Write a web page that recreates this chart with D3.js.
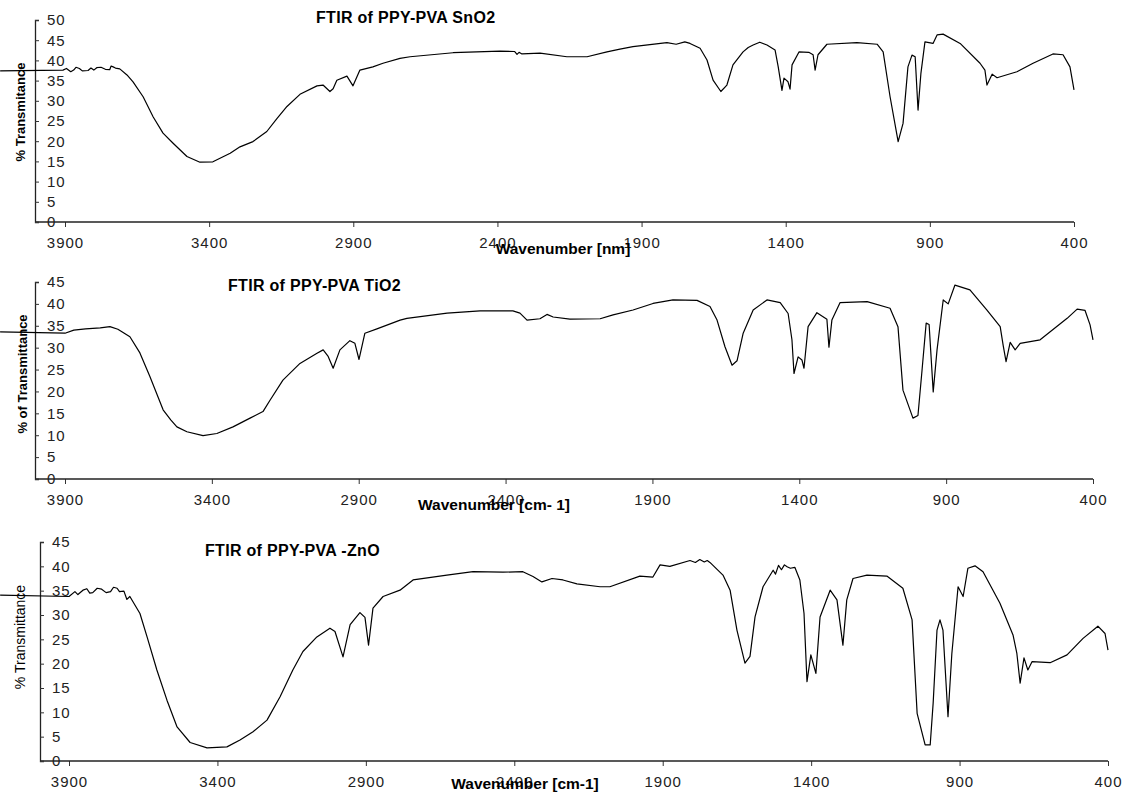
<!DOCTYPE html>
<html>
<head>
<meta charset="utf-8">
<script src="https://cdn.jsdelivr.net/npm/d3@7"></script>
<style>
  body { margin: 0; background: #fff; }
  svg { display: block; font-family: "Liberation Sans", Arial, sans-serif; }
</style>
</head>
<body>
<svg id="chart"></svg>
<script>
// wavenumber (cm-1) / % transmittance
const wnSnO2 = [4125, 3907, 3895, 3880, 3870, 3862, 3850, 3840, 3820, 3810, 3800, 3790, 3775, 3760, 3745, 3740, 3733, 3725, 3710, 3685, 3664, 3629, 3594, 3560, 3525, 3477, 3432, 3387, 3327, 3293, 3248, 3200, 3165, 3130, 3085, 3026, 3005, 2981, 2970, 2957, 2922, 2901, 2877, 2832, 2797, 2738, 2703, 2554, 2391, 2340, 2332, 2325, 2315, 2252, 2159, 2089, 2020, 1975, 1930, 1812, 1780, 1750, 1732, 1697, 1673, 1652, 1625, 1604, 1583, 1548, 1530, 1513, 1490, 1465, 1437, 1426, 1413, 1406, 1392, 1385, 1378, 1354, 1320, 1305, 1298, 1288, 1257, 1153, 1083, 1062, 1038, 1010, 993, 976, 962, 951, 941, 931, 917, 889, 875, 854, 795, 726, 709, 702, 684, 667, 598, 542, 473, 438, 414, 400];
const tSnO2 = [37.4, 37.6, 38.0, 37.2, 37.6, 38.3, 38.0, 37.4, 37.5, 38.1, 37.6, 38.2, 38.3, 37.8, 37.7, 38.6, 38.4, 38.1, 37.9, 36.4, 34.7, 31.0, 26.0, 22.0, 19.5, 16.2, 14.8, 14.9, 17.0, 18.6, 19.9, 22.4, 25.6, 28.6, 31.6, 33.7, 33.9, 32.3, 33.0, 35.1, 36.1, 33.7, 37.6, 38.4, 39.3, 40.5, 40.9, 41.9, 42.3, 42.2, 41.5, 42.0, 41.6, 41.8, 40.9, 40.9, 42.1, 42.8, 43.4, 44.4, 44.0, 44.6, 44.2, 43.0, 40.1, 35.1, 32.3, 33.9, 38.9, 42.1, 43.2, 43.8, 44.5, 43.8, 42.6, 38.4, 32.6, 35.6, 34.7, 32.9, 38.9, 42.1, 42.0, 41.4, 37.6, 41.4, 44.0, 44.4, 44.0, 42.1, 31.0, 19.9, 24.4, 38.4, 41.3, 40.9, 27.7, 36.8, 44.6, 44.2, 46.3, 46.5, 44.2, 39.3, 37.6, 33.9, 36.6, 35.7, 37.2, 39.3, 41.6, 41.4, 38.4, 32.7];

const wnTiO2 = [4121, 3900, 3870, 3830, 3780, 3747, 3720, 3679, 3645, 3611, 3566, 3540, 3519, 3485, 3430, 3383, 3328, 3270, 3226, 3202, 3158, 3100, 3042, 3021, 3004, 2987, 2964, 2930, 2913, 2899, 2879, 2838, 2759, 2736, 2599, 2487, 2375, 2351, 2327, 2283, 2259, 2238, 2181, 2078, 2034, 1966, 1898, 1830, 1748, 1704, 1680, 1653, 1629, 1612, 1591, 1557, 1510, 1465, 1438, 1425, 1418, 1404, 1391, 1384, 1370, 1340, 1306, 1299, 1289, 1261, 1169, 1091, 1064, 1047, 1013, 996, 982, 968, 958, 944, 931, 910, 893, 870, 819, 761, 716, 706, 696, 682, 665, 648, 580, 488, 454, 427, 410, 400];
const tTiO2 = [33.6, 33.3, 34.0, 34.3, 34.5, 34.8, 34.2, 32.5, 28.8, 23.4, 15.8, 13.5, 11.9, 10.8, 9.9, 10.4, 11.9, 13.9, 15.4, 18.0, 22.6, 26.4, 28.7, 29.5, 28.0, 25.3, 29.5, 31.6, 31.0, 27.3, 33.3, 34.3, 36.3, 36.7, 37.9, 38.4, 38.4, 37.9, 36.3, 36.6, 37.6, 37.0, 36.5, 36.6, 37.5, 38.6, 40.1, 40.9, 40.8, 39.4, 36.3, 30.2, 26.0, 27.0, 33.3, 38.6, 40.9, 40.3, 37.8, 31.8, 24.1, 27.9, 27.2, 25.3, 34.8, 38.0, 36.5, 30.1, 36.3, 40.3, 40.5, 39.0, 34.8, 20.3, 13.9, 14.5, 24.9, 35.6, 35.3, 19.9, 29.5, 40.9, 40.0, 44.3, 43.2, 38.6, 34.8, 30.6, 26.8, 31.2, 29.5, 31.0, 31.8, 36.7, 38.8, 38.5, 35.2, 31.8];

const wnZnO = [4132, 3900, 3880, 3870, 3853, 3840, 3830, 3820, 3805, 3790, 3775, 3760, 3750, 3738, 3730, 3715, 3705, 3695, 3661, 3637, 3604, 3570, 3536, 3492, 3435, 3368, 3324, 3280, 3233, 3189, 3146, 3112, 3065, 3021, 3004, 2977, 2953, 2920, 2903, 2891, 2876, 2842, 2785, 2741, 2627, 2539, 2438, 2371, 2337, 2307, 2273, 2236, 2189, 2111, 2078, 1977, 1933, 1909, 1876, 1808, 1790, 1775, 1760, 1750, 1741, 1697, 1673, 1650, 1623, 1606, 1589, 1562, 1528, 1520, 1510, 1500, 1490, 1481, 1470, 1455, 1438, 1424, 1414, 1401, 1384, 1370, 1336, 1313, 1293, 1280, 1259, 1212, 1145, 1091, 1060, 1043, 1016, 999, 989, 976, 966, 956, 939, 926, 905, 888, 872, 848, 821, 764, 720, 707, 696, 683, 670, 656, 595, 538, 484, 434, 410, 400];
const tZnO = [34.1, 33.8, 34.8, 34.2, 35.1, 35.4, 34.5, 34.6, 35.5, 35.3, 34.6, 34.8, 35.7, 35.5, 34.8, 34.9, 33.2, 33.8, 30.3, 25.5, 18.7, 12.5, 7.0, 3.8, 2.7, 2.9, 4.3, 6.0, 8.4, 13.2, 18.7, 22.5, 25.5, 27.3, 26.6, 21.4, 28.0, 30.5, 29.5, 23.8, 31.4, 33.8, 35.1, 37.2, 38.2, 38.9, 38.8, 38.9, 37.9, 36.8, 37.5, 37.2, 36.4, 35.8, 35.8, 38.0, 37.8, 40.3, 40.0, 41.2, 40.8, 41.4, 40.9, 41.2, 40.8, 38.2, 35.1, 26.9, 20.1, 21.5, 29.6, 35.8, 39.2, 38.4, 40.2, 39.3, 40.3, 39.9, 39.6, 39.8, 37.2, 30.3, 16.3, 21.8, 18.0, 29.6, 35.1, 33.1, 23.8, 33.1, 37.5, 38.2, 38.0, 35.5, 29.0, 9.8, 3.3, 3.3, 11.9, 26.9, 29.0, 26.9, 9.1, 22.1, 35.8, 33.8, 39.6, 40.1, 38.9, 32.4, 25.9, 22.1, 16.0, 21.2, 18.7, 20.4, 20.2, 21.8, 25.2, 27.7, 26.2, 22.8];

const xTicks = [3900, 3400, 2900, 2400, 1900, 1400, 900, 400];
const titles = ['FTIR of PPY-PVA SnO2', 'FTIR of PPY-PVA TiO2', 'FTIR of PPY-PVA -ZnO'];
const yLabels = ['% Transmitance', '% of Transmittance', '% Transmittance'];
const xLabels = ['Wavenumber [nm]', 'Wavenumber [cm- 1]', 'Wavenumber [cm-1]'];
const yMax = [50, 45, 45];

const w = 1146;
const h = 792;

// layout of each stacked panel (pixels)
const panels = [
  { wn: wnSnO2, t: tSnO2, axisX: 35, x0: 65, x1: 1074, yBot: 222, yTop: 20, title: [316, 23], yLab: [20, 112], xLab: [563, 254], yBold: true },
  { wn: wnTiO2, t: tTiO2, axisX: 35, x0: 65, x1: 1093, yBot: 479, yTop: 282, title: [228, 291], yLab: [22, 374], xLab: [494, 510], yBold: true },
  { wn: wnZnO, t: tZnO, axisX: 40, x0: 69, x1: 1108, yBot: 761, yTop: 542, title: [205, 556], yLab: [20, 637], xLab: [525, 789], yBold: false }
];

const svg = d3.select('#chart').attr('width', w).attr('height', h);

panels.forEach((p, i) => {
  const g = svg.append('g');

  const x = d3.scaleLinear().domain([3900, 400]).range([p.x0, p.x1]);
  const y = d3.scaleLinear().domain([0, yMax[i]]).range([p.yBot, p.yTop]);

  // x axis
  const xAxis = g.append('g')
    .attr('transform', `translate(0, ${p.yBot})`)
    .call(d3.axisBottom(x).tickValues(xTicks).tickSize(5).tickFormat(d3.format('d')));
  xAxis.select('.domain').remove();
  xAxis.append('line')
    .attr('x1', p.axisX).attr('x2', p.x1)
    .attr('stroke', '#222').attr('stroke-width', 1.3);
  xAxis.selectAll('.tick line').attr('stroke', '#333');
  xAxis.selectAll('text')
    .attr('y', 15)
    .style('font-size', '15px')
    .style('letter-spacing', '1px')
    .attr('fill', '#222');

  // y axis, ticks inward, labels inside the plot
  const yAxis = g.append('g')
    .attr('transform', `translate(${p.axisX}, 0)`)
    .call(d3.axisLeft(y).ticks(yMax[i] / 5).tickSize(-4));
  yAxis.select('.domain').attr('stroke', '#222').attr('stroke-width', 1.3);
  yAxis.selectAll('.tick line').attr('stroke', '#333');
  yAxis.selectAll('text')
    .attr('x', 12)
    .attr('text-anchor', 'start')
    .style('font-size', '15px')
    .style('letter-spacing', '1px')
    .attr('fill', '#222');

  // spectrum
  const line = d3.line()
    .x((d, k) => x(p.wn[k]))
    .y((d) => y(d));
  g.append('path')
    .datum(p.t)
    .attr('d', line)
    .attr('fill', 'none')
    .attr('stroke', '#000')
    .attr('stroke-width', 1.2)
    .attr('stroke-linejoin', 'round');

  g.append('text')
    .attr('x', p.title[0]).attr('y', p.title[1])
    .style('font-size', '16px')
    .style('font-weight', 'bold')
    .style('letter-spacing', '0.3px')
    .text(titles[i]);

  g.append('text')
    .attr('transform', `translate(${p.yLab[0]}, ${p.yLab[1]}) rotate(-90)`)
    .attr('text-anchor', 'middle')
    .attr('dy', '0.35em')
    .style('font-size', p.yBold ? '13px' : '14px')
    .style('font-weight', p.yBold ? 'bold' : 'normal')
    .text(yLabels[i]);

  // the axis titles sit on top of the 2400 label, as in the original figure
  g.append('text')
    .attr('x', p.xLab[0]).attr('y', p.xLab[1])
    .attr('text-anchor', 'middle')
    .style('font-size', '15.5px')
    .style('font-weight', 'bold')
    .text(xLabels[i]);
});
</script>
</body>
</html>
